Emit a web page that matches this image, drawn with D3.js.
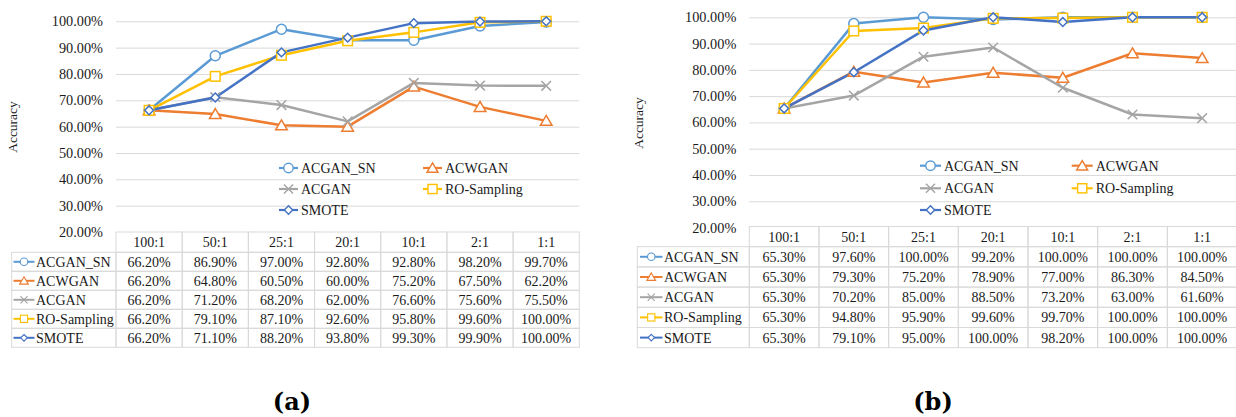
<!DOCTYPE html>
<html><head><meta charset="utf-8">
<script src="https://cdn.jsdelivr.net/npm/d3@7"></script>
<style>
body{margin:0;background:#fff;}
svg{display:block;font-family:"Liberation Serif","Times New Roman",serif;}
</style></head>
<body><svg id="c" width="1236" height="417"></svg>
<script>
const categories = ["100:1","50:1","25:1","20:1","10:1","2:1","1:1"];
const seriesNames = ["ACGAN_SN","ACWGAN","ACGAN","RO-Sampling","SMOTE"];
const seriesColors = ["#5B9BD5","#ED7D31","#A5A5A5","#FFC000","#4472C4"];
const seriesMarkers = ["circle","triangle","x","square","diamond"];
const yTicks = [20,30,40,50,60,70,80,90,100];

const aACGAN_SN = [66.2,86.9,97.0,92.8,92.8,98.2,99.7];
const aACWGAN   = [66.2,64.8,60.5,60.0,75.2,67.5,62.2];
const aACGAN    = [66.2,71.2,68.2,62.0,76.6,75.6,75.5];
const aRO       = [66.2,79.1,87.1,92.6,95.8,99.6,100.0];
const aSMOTE    = [66.2,71.1,88.2,93.8,99.3,99.9,100.0];

const bACGAN_SN = [65.3,97.6,100.0,99.2,100.0,100.0,100.0];
const bACWGAN   = [65.3,79.3,75.2,78.9,77.0,86.3,84.5];
const bACGAN    = [65.3,70.2,85.0,88.5,73.2,63.0,61.6];
const bRO       = [65.3,94.8,95.9,99.6,99.7,100.0,100.0];
const bSMOTE    = [65.3,79.1,95.0,100.0,98.2,100.0,100.0];

const panelA = [aACGAN_SN,aACWGAN,aACGAN,aRO,aSMOTE];
const panelB = [bACGAN_SN,bACWGAN,bACGAN,bRO,bSMOTE];

const svg = d3.select("#c");
const grid = "#d9d9d9";
const txt = "#1a1a1a";

function marker(g, type, color, x, y, s){
  s = s || 1;
  const m = g.append("g").attr("transform",`translate(${x},${y}) scale(${s})`);
  const st = {fill:"#fff",stroke:color,"stroke-width":1.5};
  let el;
  if(type==="circle") el = m.append("circle").attr("r",5);
  else if(type==="triangle") el = m.append("path").attr("d","M0,-5.4L5.8,4.5L-5.8,4.5Z");
  else if(type==="square") el = m.append("rect").attr("x",-4.8).attr("y",-4.8).attr("width",9.6).attr("height",9.6);
  else if(type==="diamond") el = m.append("path").attr("d","M0,-4.4L4.4,0L0,4.4L-4.4,0Z");
  else if(type==="x"){ el = m.append("path").attr("d","M-4.8,-4.8L4.8,4.8M-4.8,4.8L4.8,-4.8").attr("fill","none"); st.fill="none"; }
  Object.entries(st).forEach(([k,v])=>el.attr(k,v));
}

function drawPanel(cfg, data){
  const g = svg.append("g");
  const x = d3.scaleBand().domain(categories).range([cfg.left,cfg.right]).padding(0);
  const y = d3.scaleLinear().domain([20,100]).range([cfg.bottom,cfg.top]);
  const cx = c => x(c)+x.bandwidth()/2;

  const yAxis = d3.axisLeft(y).tickValues(yTicks).tickSize(-(cfg.right-cfg.left)).tickFormat(d=>d.toFixed(2)+"%").tickPadding(13);
  const ag = g.append("g").attr("transform",`translate(${cfg.left},0)`).call(yAxis);
  ag.select(".domain").remove();
  ag.selectAll(".tick line").attr("stroke",grid).attr("stroke-width",1).filter(d=>d===20).remove();
  ag.selectAll(".tick text").attr("fill",txt).attr("font-size",14.3).attr("font-family","Liberation Serif, serif");

  g.append("text").attr("transform",`translate(${cfg.ylabX},${cfg.ylabY}) rotate(-90)`)
    .attr("text-anchor","middle").attr("font-size",13.5).attr("fill",txt).text("Accuracy");

  seriesNames.forEach((n,i)=>{
    const col = i%2, row = Math.floor(i/2);
    const lx = cfg.legX[col], ly = cfg.legY[row];
    g.append("line").attr("x1",lx).attr("x2",lx+cfg.legKey).attr("y1",ly).attr("y2",ly)
      .attr("stroke",seriesColors[i]).attr("stroke-width",2.2);
    marker(g, seriesMarkers[i], seriesColors[i], lx+cfg.legKey/2, ly, 0.95);
    g.append("text").attr("x",lx+cfg.legKey+3).attr("y",ly).attr("dy","0.35em")
      .attr("font-size",14).attr("fill",txt).text(n);
  });

  const line = d3.line().x((d,i)=>cx(categories[i])).y(d=>y(d));
  data.forEach((s,i)=>{
    g.append("path").datum(s).attr("d",line).attr("fill","none")
      .attr("stroke",seriesColors[i]).attr("stroke-width",2.5).attr("stroke-linejoin","round");
  });
  data.forEach((s,i)=>{
    s.forEach((v,j)=>marker(g, seriesMarkers[i], seriesColors[i], cx(categories[j]), y(v), 1));
  });

  const t = g.append("g");
  const rowH = cfg.rowH;
  const hTop = cfg.tTop, hBot = cfg.tTop+cfg.headH;
  categories.forEach(c=>{
    t.append("rect").attr("x",x(c)).attr("y",hTop).attr("width",x.bandwidth()).attr("height",cfg.headH)
      .attr("fill","none").attr("stroke",grid);
    t.append("text").attr("x",cx(c)).attr("y",(hTop+hBot)/2).attr("dy","0.35em").attr("text-anchor","middle")
      .attr("font-size",14).attr("fill",txt).text(c);
  });
  seriesNames.forEach((n,i)=>{
    const ry = hBot + rowH*i;
    t.append("rect").attr("x",cfg.tLeft).attr("y",ry).attr("width",cfg.left-cfg.tLeft).attr("height",rowH)
      .attr("fill","none").attr("stroke",grid);
    const kx = cfg.tLeft+cfg.tKeyOff;
    t.append("line").attr("x1",kx).attr("x2",kx+cfg.tKey).attr("y1",ry+rowH/2).attr("y2",ry+rowH/2)
      .attr("stroke",seriesColors[i]).attr("stroke-width",2);
    marker(t, seriesMarkers[i], seriesColors[i], kx+cfg.tKey/2, ry+rowH/2, 0.75);
    t.append("text").attr("x",kx+cfg.tKey+1.5).attr("y",ry+rowH/2).attr("dy","0.35em")
      .attr("font-size",14).attr("fill",txt).text(n);
    categories.forEach((c,j)=>{
      t.append("rect").attr("x",x(c)).attr("y",ry).attr("width",x.bandwidth()).attr("height",rowH)
        .attr("fill","none").attr("stroke",grid);
      t.append("text").attr("x",cx(c)).attr("y",ry+rowH/2).attr("dy","0.35em").attr("text-anchor","middle")
        .attr("font-size",14).attr("fill",txt).text(data[i][j].toFixed(2)+"%");
    });
  });

  g.append("text").attr("x",cfg.capX).attr("y",410).attr("text-anchor","middle")
    .attr("font-size",24).attr("font-weight","bold").attr("fill","#000")
    .attr("font-family","DejaVu Serif, serif").text(cfg.cap);
}

drawPanel({left:116,right:579.3,top:21.3,bottom:232,tTop:232,headH:20.3,rowH:19,tLeft:11.7,
  tKeyOff:1.8,tKey:21,ylabX:17,ylabY:127,legX:[279,423],legY:[168,189,210],legKey:19,capX:292,cap:"(a)"}, panelA);
drawPanel({left:749.3,right:1237,top:17.3,bottom:227.5,tTop:226.5,headH:20.2,rowH:20.2,tLeft:637.3,
  tKeyOff:2.7,tKey:22.5,ylabX:643,ylabY:123,legX:[920,1071.7],legY:[165.7,188.3,210],legKey:21,capX:933,cap:"(b)"}, panelB);
</script></body></html>
